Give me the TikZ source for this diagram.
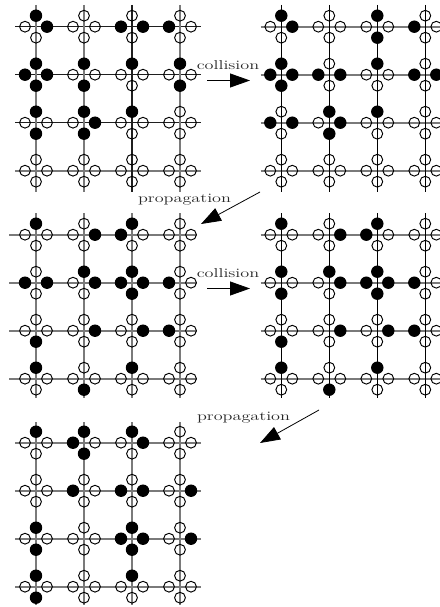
\documentclass[tikz,border=0pt]{standalone}
\usetikzlibrary{arrows.meta}
\tikzset{
  softline/.style={line width=1.7pt,black!52},
  darkline/.style={line width=1.4pt,black!88},
  thinline/.style={line width=1pt,black},
  hrow0/.style={softline},hrow1/.style={softline},hrow2/.style={softline},hrow3/.style={softline},
  vcol0/.style={softline},vcol1/.style={softline},vcol2/.style={softline},vcol3/.style={softline},
  opendot/.style={line width=0.95pt,black},
  dirN/.style={shift={(0,-11)}},
  dirE/.style={shift={(11,0)}},
  dirS/.style={shift={(0,11)}},
  dirW/.style={shift={(-11,0)}},
  bigarrow/.style={line width=0.8pt,-{Triangle[length=20pt,width=14pt]}},
  steplabel/.style={inner sep=0pt,text=black!85,font=\fontsize{12.8}{14}\selectfont,xscale=1.42,transform shape}
}
% #1 x of first column, #2 y of first row, #3,#4 horizontal line extent, #5,#6 vertical line extent, #7 filled dots
\newcommand{\latticepanel}[7]{%
  \foreach \rw in {0,1,2,3}{
    \draw[hrow\rw] (#3,#2+48*\rw) -- (#4,#2+48*\rw);
  }
  \foreach \cl in {0,1,2,3}{
    \draw[vcol\cl] (#1+48*\cl,#5) -- (#1+48*\cl,#6);
    \foreach \rw in {0,1,2,3}{
      \begin{scope}[shift={(#1+48*\cl,#2+48*\rw)}]
        \foreach \dd in {N,E,S,W}{
          \draw[opendot,dir\dd] (0,0) circle[radius=5.4];
        }
      \end{scope}
    }
  }
  \foreach \cl/\rw/\dd in {#7}{
    \fill[black,shift={(#1+48*\cl,#2+48*\rw)},dir\dd] (0,0) circle[radius=6.2];
  }
}
\begin{document}
\begin{tikzpicture}[x=1pt,y=-1pt]
\useasboundingbox (0,0) rectangle (439,607);
\begin{scope}[hrow0/.style={darkline},hrow1/.style={darkline},hrow2/.style={darkline},vcol2/.style={darkline}]
\latticepanel{36}{26.7}{15}{201}{5}{192}{0/0/N,0/0/E,2/0/W,2/0/E,3/0/W,
  0/1/N,0/1/E,0/1/S,0/1/W,1/1/N,1/1/S,2/1/N,3/1/N,3/1/S,
  0/2/N,0/2/S,1/2/N,1/2/E,1/2/S,2/2/N}
\end{scope}
\begin{scope}[vcol0/.style={thinline},vcol1/.style={thinline},vcol2/.style={thinline},vcol3/.style={thinline}]
\latticepanel{281.3}{26.7}{260.7}{447}{5}{192}{0/0/N,0/0/E,2/0/N,2/0/S,3/0/W,
  0/1/N,0/1/E,0/1/S,0/1/W,1/1/W,1/1/E,2/1/N,3/1/W,3/1/E,
  0/2/W,0/2/E,1/2/N,1/2/E,1/2/S,2/2/N}
\latticepanel{281.3}{234.7}{260.7}{447}{213}{398}{0/0/N,1/0/E,2/0/N,2/0/W,
  0/1/N,0/1/S,1/1/N,1/1/E,2/1/N,2/1/E,2/1/S,2/1/W,3/1/W,
  0/2/S,1/2/E,2/2/E,3/2/W,
  0/3/N,1/3/S,2/3/N}
\end{scope}
\latticepanel{36}{234.7}{9.3}{197}{213}{398}{0/0/N,1/0/E,2/0/N,2/0/W,
  0/1/W,0/1/E,1/1/N,1/1/E,2/1/N,2/1/E,2/1/S,2/1/W,3/1/W,
  0/2/S,1/2/E,2/2/E,3/2/W,
  0/3/N,1/3/S,2/3/N}
\latticepanel{36}{442.7}{15}{201}{422}{605}{0/0/N,1/0/N,1/0/W,1/0/S,2/0/N,2/0/E,
  1/1/W,2/1/W,2/1/E,3/1/E,
  0/2/N,0/2/S,2/2/N,2/2/E,2/2/S,2/2/W,3/2/E,
  0/3/N,0/3/S,2/3/N}

\node[steplabel] (collisionA) at (228,65.5) {collision};
\node[steplabel] (collisionB) at (228,273.5) {collision};
\node[steplabel] (propagationA) at (184.5,199.5) {propagation};
\node[steplabel] (propagationB) at (243.5,417.5) {propagation};

\coordinate (c1s) at (207,80.5);
\coordinate (c1t) at (250,80.5);
\coordinate (c2s) at (207,288.5);
\coordinate (c2t) at (250,288.5);
\coordinate (p1s) at (260,192);
\coordinate (p1t) at (201,224);
\coordinate (p2s) at (319,410);
\coordinate (p2t) at (260,443);
\draw[bigarrow] (c1s) -- (c1t);
\draw[bigarrow] (c2s) -- (c2t);
\draw[bigarrow] (p1s) -- (p1t);
\draw[bigarrow] (p2s) -- (p2t);
\end{tikzpicture}
\end{document}
